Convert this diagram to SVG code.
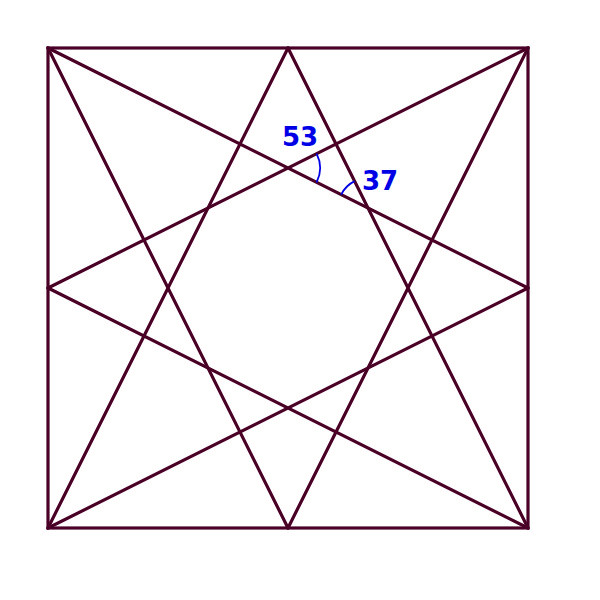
<svg xmlns="http://www.w3.org/2000/svg" width="600" height="600" viewBox="0 0 600 600">
<style>
.l{stroke:#4a0026;stroke-width:3.2;fill:none;stroke-linecap:round}
.a{stroke:#0000e6;stroke-width:1.8;fill:none}
.t{font-family:"DejaVu Sans",sans-serif;font-weight:bold;font-size:26px;fill:#0000e6}
</style>
<rect x="0" y="0" width="600" height="600" fill="#ffffff"/>
<g id="connectors">
<rect class="l" x="48" y="48" width="480" height="480"/>
<line class="l" x1="48" y1="48" x2="288" y2="528"/>
<line class="l" x1="48" y1="48" x2="528" y2="288"/>
<line class="l" x1="528" y1="48" x2="288" y2="528"/>
<line class="l" x1="528" y1="48" x2="48" y2="288"/>
<line class="l" x1="48" y1="528" x2="288" y2="48"/>
<line class="l" x1="48" y1="528" x2="528" y2="288"/>
<line class="l" x1="528" y1="528" x2="288" y2="48"/>
<line class="l" x1="528" y1="528" x2="48" y2="288"/>
</g>
<g id="angle53">
<path class="a" d="M316.62,153.69 A32,32 0 0 1 316.62,182.31"/>
<text class="t" x="282" y="146">53</text>
</g>
<g id="angle37">
<path class="a" d="M341.17,194.58 A30,30 0 0 1 354.58,181.17"/>
<text class="t" x="362" y="190">37</text>
</g>
</svg>
